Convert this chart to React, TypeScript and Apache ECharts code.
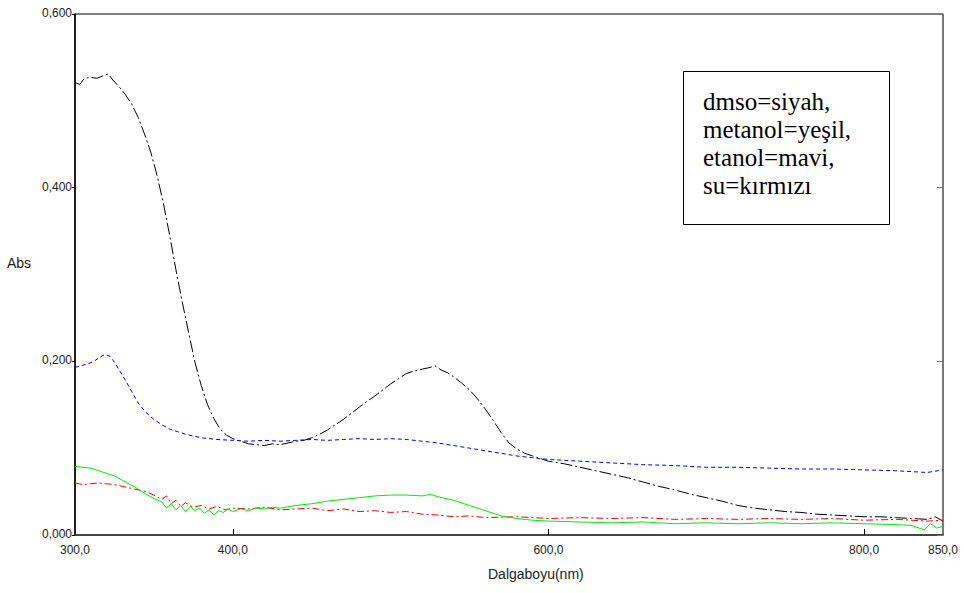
import React, { useEffect, useRef } from "react";
import * as echarts from "echarts";

// dmso (black)
const dmsoX = [300,303,306,310,314,318,321,324,328,332,336,340,344,348,352,356,360,364,368,372,376,380,384,388,392,396,400,405,410,415,420,425,430,435,440,445,450,455,460,465,470,475,480,485,490,495,500,505,510,515,520,525,528,532,536,540,545,550,555,560,565,570,575,580,585,590,595,600,610,620,630,640,650,660,670,680,690,700,710,720,730,740,750,760,770,780,790,800,810,820,830,840,845,850];
const dmsoY = [0.521,0.519,0.526,0.527,0.526,0.529,0.531,0.524,0.516,0.507,0.496,0.481,0.462,0.441,0.414,0.382,0.345,0.305,0.268,0.233,0.199,0.172,0.150,0.134,0.122,0.115,0.111,0.108,0.105,0.104,0.103,0.105,0.104,0.106,0.108,0.109,0.112,0.116,0.121,0.127,0.133,0.140,0.147,0.154,0.160,0.167,0.174,0.180,0.186,0.189,0.191,0.193,0.195,0.190,0.187,0.182,0.175,0.167,0.157,0.145,0.132,0.118,0.106,0.099,0.094,0.091,0.088,0.085,0.082,0.078,0.074,0.070,0.066,0.061,0.056,0.052,0.047,0.043,0.039,0.034,0.031,0.029,0.027,0.026,0.024,0.023,0.022,0.021,0.021,0.020,0.019,0.018,0.021,0.016];

// etanol (blue)
const etanolX = [300,304,308,312,316,319,322,325,328,332,336,340,345,350,355,360,365,370,375,380,390,400,410,420,430,440,450,460,470,480,490,500,510,520,530,540,550,560,570,580,590,600,620,640,660,680,700,720,740,760,780,800,820,840,850];
const etanolY = [0.193,0.195,0.197,0.200,0.205,0.208,0.206,0.199,0.190,0.178,0.165,0.152,0.141,0.133,0.127,0.122,0.119,0.116,0.114,0.112,0.110,0.109,0.108,0.109,0.108,0.109,0.110,0.109,0.110,0.111,0.110,0.111,0.110,0.108,0.106,0.103,0.100,0.097,0.094,0.091,0.089,0.087,0.085,0.083,0.081,0.080,0.078,0.078,0.077,0.076,0.076,0.075,0.074,0.072,0.075];

// metanol (green)
const metanolX = [300,305,310,315,320,325,330,335,340,345,350,355,358,361,364,367,370,373,376,379,382,385,388,391,394,397,400,405,410,415,420,425,430,440,450,460,470,480,490,500,510,520,525,530,540,550,560,570,580,590,600,620,640,660,680,700,720,740,760,780,800,820,830,838,842,846,850];
const metanolY = [0.079,0.078,0.077,0.074,0.071,0.068,0.063,0.058,0.053,0.047,0.042,0.038,0.031,0.036,0.029,0.034,0.027,0.033,0.028,0.031,0.025,0.029,0.023,0.028,0.026,0.030,0.027,0.030,0.028,0.031,0.030,0.032,0.031,0.034,0.036,0.039,0.041,0.043,0.045,0.046,0.046,0.045,0.047,0.044,0.040,0.034,0.028,0.022,0.019,0.017,0.016,0.015,0.014,0.015,0.013,0.014,0.013,0.014,0.013,0.014,0.013,0.012,0.011,0.006,0.013,0.008,0.010];

// su (red)
const suX = [300,305,310,315,320,325,330,335,340,345,350,355,358,361,364,367,370,375,380,385,390,395,400,410,420,430,440,450,460,470,480,490,500,510,520,530,540,550,560,580,600,620,640,660,680,700,720,740,760,780,800,820,840,850];
const suY = [0.060,0.058,0.059,0.060,0.059,0.058,0.056,0.054,0.052,0.050,0.046,0.041,0.045,0.036,0.040,0.033,0.037,0.032,0.034,0.030,0.033,0.029,0.031,0.030,0.032,0.029,0.030,0.031,0.028,0.030,0.027,0.028,0.026,0.027,0.024,0.023,0.021,0.022,0.020,0.021,0.019,0.020,0.019,0.020,0.018,0.019,0.018,0.019,0.018,0.019,0.017,0.018,0.016,0.017];

const xLabelValues = [300, 400, 600, 800, 850];
const xTickValues = [400, 600, 800];
const legendLines = ["dmso=siyah,", "metanol=yeşil,", "etanol=mavi,", "su=kırmızı"];

const pairs = (xs: number[], ys: number[]) => xs.map((x, i) => [x, ys[i]]);

export default function App() {
  const ref = useRef<HTMLDivElement>(null);
  useEffect(() => {
    if (!ref.current) return;
    const chart = echarts.init(ref.current, undefined, { renderer: "svg" });
    const font = "'Liberation Sans', Arial, sans-serif";
    chart.setOption({
      animation: false,
      backgroundColor: "#fff",
      grid: { left: 75, top: 14, right: 21, bottom: 58, show: true, borderColor: "#000", borderWidth: 1, backgroundColor: "transparent" },
      xAxis: {
        type: "value",
        min: 300,
        max: 850,
        axisLine: { show: true, lineStyle: { color: "#333", width: 1.5 } },
        axisTick: { show: true, inside: true, length: 6, customValues: xTickValues, lineStyle: { color: "#000" } },
        axisLabel: {
          customValues: xLabelValues,
          formatter: (v: number) => v.toFixed(1).replace(".", ","),
          color: "#222",
          fontFamily: font,
          fontSize: 12,
          margin: 9,
        },
        splitLine: { show: false },
      },
      yAxis: [
        {
          type: "value",
          min: 0,
          max: 0.6,
          interval: 0.2,
          position: "left",
          axisLine: { show: true, lineStyle: { color: "#000", width: 1.5 } },
          axisTick: { show: true, inside: false, length: 3, lineStyle: { color: "#000" } },
          axisLabel: {
            formatter: (v: number) => v.toFixed(3).replace(".", ","),
            color: "#222",
            fontFamily: font,
            fontSize: 12,
            margin: 3,
            verticalAlign: "bottom",
            padding: [0, 0, -5, 0],
          },
          splitLine: { show: false },
        },
        {
          type: "value",
          min: 0,
          max: 0.6,
          interval: 0.2,
          position: "right",
          axisLine: { show: true, lineStyle: { color: "#777", width: 1.5 } },
          axisTick: { show: true, inside: true, length: 6, lineStyle: { color: "#777" } },
          axisLabel: { show: false },
          splitLine: { show: false },
        },
      ],
      series: [
        {
          name: "dmso",
          type: "line",
          showSymbol: false,
          data: pairs(dmsoX, dmsoY),
          lineStyle: { color: "#000", width: 1, type: [12, 3, 2, 3] },
        },
        {
          name: "etanol",
          type: "line",
          showSymbol: false,
          data: pairs(etanolX, etanolY),
          lineStyle: { color: "#0000ff", width: 1, type: [4, 3] },
        },
        {
          name: "su",
          type: "line",
          showSymbol: false,
          data: pairs(suX, suY),
          lineStyle: { color: "#ff0000", width: 1, type: [7, 3, 2, 3] },
        },
        {
          name: "metanol",
          type: "line",
          showSymbol: false,
          data: pairs(metanolX, metanolY),
          lineStyle: { color: "#00ee00", width: 1 },
        },
      ],
      graphic: [
        {
          type: "text",
          x: 7,
          y: 263,
          style: { text: "Abs", font: `14px ${font}`, fill: "#222", textVerticalAlign: "middle" },
        },
        {
          type: "text",
          x: 488,
          y: 574,
          style: { text: "Dalgaboyu(nm)", font: `14px ${font}`, fill: "#222", textVerticalAlign: "middle" },
        },
        {
          type: "rect",
          shape: { x: 683.5, y: 71.5, width: 206, height: 153 },
          style: { fill: "#fff", stroke: "#000", lineWidth: 1 },
        },
        ...legendLines.map((t, i) => ({
          type: "text",
          x: 703,
          y: 101 + i * 28,
          style: {
            text: t,
            font: "25px 'Liberation Serif', 'Times New Roman', serif",
            fill: "#000",
            textVerticalAlign: "middle",
          },
        })),
      ],
    });
    return () => chart.dispose();
  }, []);
  return <div ref={ref} style={{ position: "absolute", left: 0, top: 0, width: 964, height: 593 }} />;
}
